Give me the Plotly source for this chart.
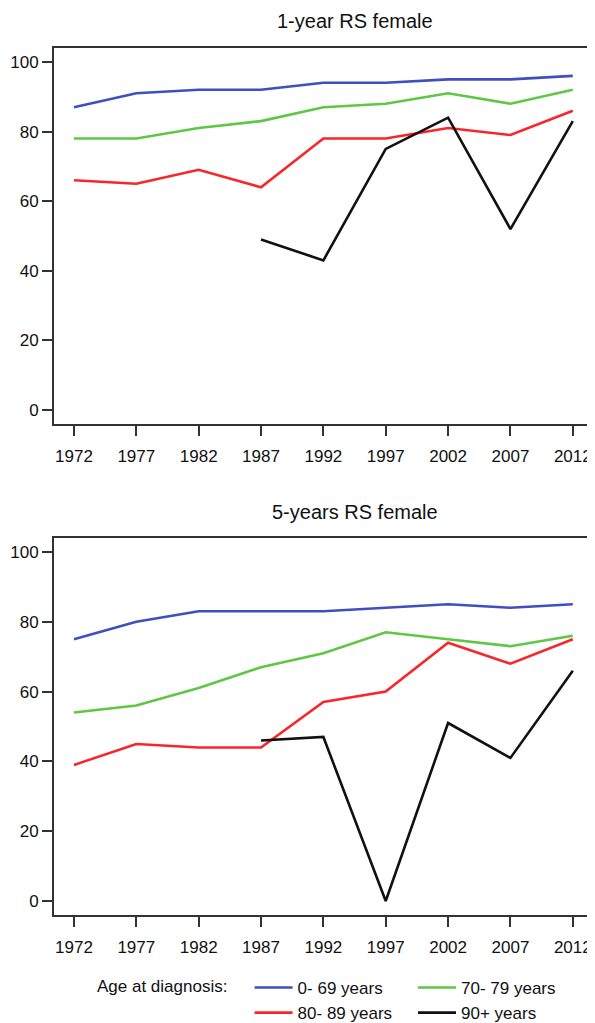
import plotly.graph_objects as go

years = [1972, 1977, 1982, 1987, 1992, 1997, 2002, 2007, 2012]
series_names = ["0- 69 years", "70- 79 years", "80- 89 years", "90+ years"]
series_colors = ["#3F4FBF", "#5EC744", "#F8262A", "#111111"]
legend_columns = ["legend", "legend2", "legend", "legend2"]

# 1-year relative survival, female
one_year_0_69 = [87, 91, 92, 92, 94, 94, 95, 95, 96]
one_year_70_79 = [78, 78, 81, 83, 87, 88, 91, 88, 92]
one_year_80_89 = [66, 65, 69, 64, 78, 78, 81, 79, 86]
one_year_90p = [None, None, None, 49, 43, 75, 84, 52, 83]

# 5-year relative survival, female
five_year_0_69 = [75, 80, 83, 83, 83, 84, 85, 84, 85]
five_year_70_79 = [54, 56, 61, 67, 71, 77, 75, 73, 76]
five_year_80_89 = [39, 45, 44, 44, 57, 60, 74, 68, 75]
five_year_90p = [None, None, None, 46, 47, 0, 51, 41, 66]

y_ticks = [0, 20, 40, 60, 80, 100]
titles = ["1-year RS female", "5-years RS female"]
legend_title = "Age at diagnosis:\u00a0\u00a0\u00a0"

# The page body has an 8px margin; the figure is sized to fit inside the window.
OFF = 8
W, H = 595 - OFF, 1023 - OFF
FONT = "Liberation Sans, Arial, Helvetica, sans-serif"

fig = go.Figure()

panels = [
    ([one_year_0_69, one_year_70_79, one_year_80_89, one_year_90p], "x", "y", True),
    ([five_year_0_69, five_year_70_79, five_year_80_89, five_year_90p], "x2", "y2", False),
]
for data, xa, ya, show in panels:
    for name, color, vals, lg in zip(series_names, series_colors, data, legend_columns):
        fig.add_trace(go.Scatter(
            x=years, y=vals, mode="lines", name=name,
            line=dict(color=color, width=2.6),
            connectgaps=False, showlegend=show, legend=lg,
            xaxis=xa, yaxis=ya,
        ))

def px_x(p):
    return (p - OFF) / W

def px_y(p):
    return 1 - (p - OFF) / H

axis_common = dict(
    showgrid=False, zeroline=False, showline=True, linecolor="#333333",
    linewidth=2, mirror=True, ticks="outside", ticklen=10, tickwidth=1.6,
    tickcolor="#333333", tickfont=dict(family=FONT, size=17, color="#111111"),
    tickangle=0,
)

legend_common = dict(
    orientation="v", yanchor="top", xanchor="left",
    font=dict(family=FONT, size=17, color="#111111"),
    itemwidth=38, tracegroupgap=0, bgcolor="rgba(0,0,0,0)",
)

xdom = [px_x(54), px_x(594)]
fig.update_layout(
    width=W, height=H,
    margin=dict(l=0, r=0, t=0, b=0, autoexpand=False),
    paper_bgcolor="white", plot_bgcolor="white",
    font=dict(family=FONT, size=17, color="#111111"),
    xaxis=dict(domain=xdom, range=[1970.4, 2013.7], tickvals=years,
               anchor="y", ticklabelstandoff=6, **axis_common),
    yaxis=dict(domain=[px_y(424), px_y(48)], range=[-4, 104], tickvals=y_ticks,
               anchor="x", ticklabelstandoff=0, **axis_common),
    xaxis2=dict(domain=xdom, range=[1970.4, 2013.7], tickvals=years,
                anchor="y2", ticklabelstandoff=6, **axis_common),
    yaxis2=dict(domain=[px_y(915), px_y(538)], range=[-4, 104], tickvals=y_ticks,
                anchor="x2", ticklabelstandoff=0, **axis_common),
    showlegend=True,
    legend=dict(
        x=px_x(95), y=px_y(970),
        title=dict(text=legend_title, side="left", font=dict(family=FONT, size=17)),
        **legend_common,
    ),
    legend2=dict(x=px_x(413), y=px_y(970), **legend_common),
    annotations=[
        dict(text=titles[0], x=px_x(355), y=px_y(21), xref="paper", yref="paper",
             showarrow=False, font=dict(family=FONT, size=20, color="#111111"),
             xanchor="center", yanchor="middle"),
        dict(text=titles[1], x=px_x(355), y=px_y(512), xref="paper", yref="paper",
             showarrow=False, font=dict(family=FONT, size=20, color="#111111"),
             xanchor="center", yanchor="middle"),
    ],
)

fig.write_html("out.html")
